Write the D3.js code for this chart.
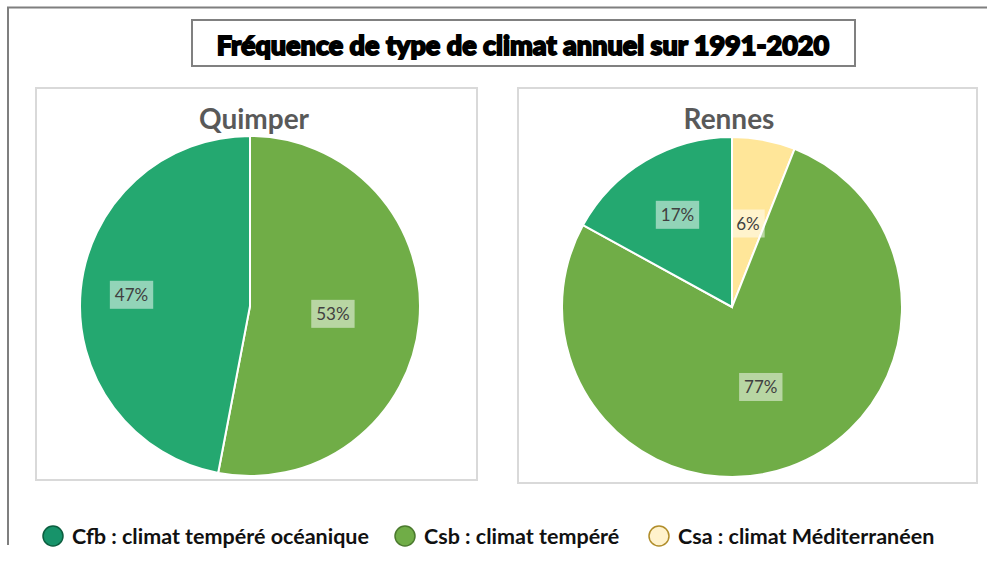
<!DOCTYPE html>
<html lang="fr">
<head>
  <meta charset="UTF-8">
  <title>Fréquence de type de climat annuel</title>
  <script src="https://d3js.org/d3.v7.min.js"></script>
  <style>
    body { margin: 0; background: #fff; }
    svg { display: block; }
  </style>
</head>
<body>
  <svg width="987" height="563"></svg>
  <script>
    // climate types, in the order the slices are drawn (clockwise from 12 o'clock)
    const climates = ["Csa", "Csb", "Cfb"];
    const climateNames = ["Csa : climat Méditerranéen", "Csb : climat tempéré", "Cfb : climat tempéré océanique"];
    const legendOrder = ["Cfb", "Csb", "Csa"];

    const cities = ["Quimper", "Rennes"];
    const quimperValues = [0, 53, 47];
    const rennesValues = [6, 77, 17];

    const fills = { Cfb: "#24a870", Csb: "#70ad47", Csa: "#ffe699" };
    const legendFills = { Cfb: "#17936a", Csb: "#70ad47", Csa: "#fff2cc" };
    const legendStrokes = { Cfb: "#0b5e3f", Csb: "#4b7a2e", Csa: "#b08d2a" };

    // where Excel put each data label, as a fraction of the radius
    const labelRadius = {
      Quimper: { Csa: 0.5, Csb: 0.49, Cfb: 0.70 },
      Rennes: { Csa: 0.5, Csb: 0.5, Cfb: 0.63 }
    };

    const svg = d3.select("svg");

    // outer frame (only top and left edges visible)
    svg.append("path")
      .attr("d", "M8,545 L8,7.5 L987,7.5")
      .attr("fill", "none")
      .attr("stroke", "#7f7f7f")
      .attr("stroke-width", 2);

    // main title box
    svg.append("rect")
      .attr("x", 192).attr("y", 20).attr("width", 663).attr("height", 46)
      .attr("fill", "#fff").attr("stroke", "#808080").attr("stroke-width", 2);
    svg.append("text")
      .attr("x", 523).attr("y", 55)
      .attr("text-anchor", "middle")
      .attr("font-family", "Lato, sans-serif")
      .attr("font-weight", 900)
      .attr("font-size", 27)
      .attr("stroke", "#000").attr("stroke-width", 1.8)
      .attr("fill", "#000")
      .text("Fréquence de type de climat annuel sur 1991-2020");

    const panels = [
      { city: "Quimper", values: quimperValues, x: 36, y: 88, w: 441, h: 392, cx: 250, cy: 306, tx: 254 },
      { city: "Rennes", values: rennesValues, x: 518, y: 88, w: 459, h: 395, cx: 732, cy: 307, tx: 729 }
    ];
    const r = 170;

    const pie = d3.pie().sort(null).value(d => d.value);
    const arc = d3.arc().innerRadius(0).outerRadius(r);

    panels.forEach(p => {
      const g = svg.append("g");
      g.append("rect")
        .attr("x", p.x).attr("y", p.y).attr("width", p.w).attr("height", p.h)
        .attr("fill", "#fff").attr("stroke", "#d9d9d9").attr("stroke-width", 2);

      g.append("text")
        .attr("x", p.tx).attr("y", 129)
        .attr("text-anchor", "middle")
        .attr("font-family", "Lato, sans-serif")
        .attr("font-weight", 700)
        .attr("font-size", 28)
        .attr("fill", "#595959")
        .text(p.city);

      const data = climates.map((c, i) => ({ key: c, value: p.values[i] }));
      const arcs = pie(data).filter(d => d.data.value > 0);

      const pg = g.append("g").attr("transform", `translate(${p.cx},${p.cy})`);
      pg.selectAll("path")
        .data(arcs)
        .join("path")
        .attr("d", arc)
        .attr("fill", d => fills[d.data.key])
        .attr("stroke", "#fff")
        .attr("stroke-width", 2);

      const lab = pg.selectAll("g.lab")
        .data(arcs)
        .join("g")
        .attr("class", "lab")
        .attr("transform", d => {
          const k = labelRadius[p.city][d.data.key] * r;
          const a = (d.startAngle + d.endAngle) / 2;
          return `translate(${Math.sin(a) * k},${-Math.cos(a) * k})`;
        });
      lab.append("text")
        .attr("text-anchor", "middle")
        .attr("dy", "0.36em")
        .attr("font-family", "Lato, sans-serif")
        .attr("font-size", 17)
        .attr("fill", "#404040")
        .text(d => d.data.value + "%")
        .each(function () {
          const b = this.getBBox();
          d3.select(this.parentNode).insert("rect", "text")
            .attr("x", b.x - 5).attr("y", -14)
            .attr("width", b.width + 10).attr("height", 28)
            .attr("fill", "#fff").attr("fill-opacity", 0.5);
        });
    });

    // legend
    const legendX = [53, 405, 659];
    const legend = svg.append("g").selectAll("g")
      .data(legendOrder)
      .join("g")
      .attr("transform", (d, i) => `translate(${legendX[i]},536)`);
    legend.append("circle")
      .attr("r", 10)
      .attr("fill", d => legendFills[d])
      .attr("stroke", d => legendStrokes[d])
      .attr("stroke-width", 1.5);
    legend.append("text")
      .attr("x", 19).attr("dy", "0.35em")
      .attr("font-family", "Lato, sans-serif")
      .attr("font-weight", 700)
      .attr("font-size", 21.5)
      .attr("fill", "#111")
      .text(d => climateNames[climates.indexOf(d)]);
  </script>
</body>
</html>
